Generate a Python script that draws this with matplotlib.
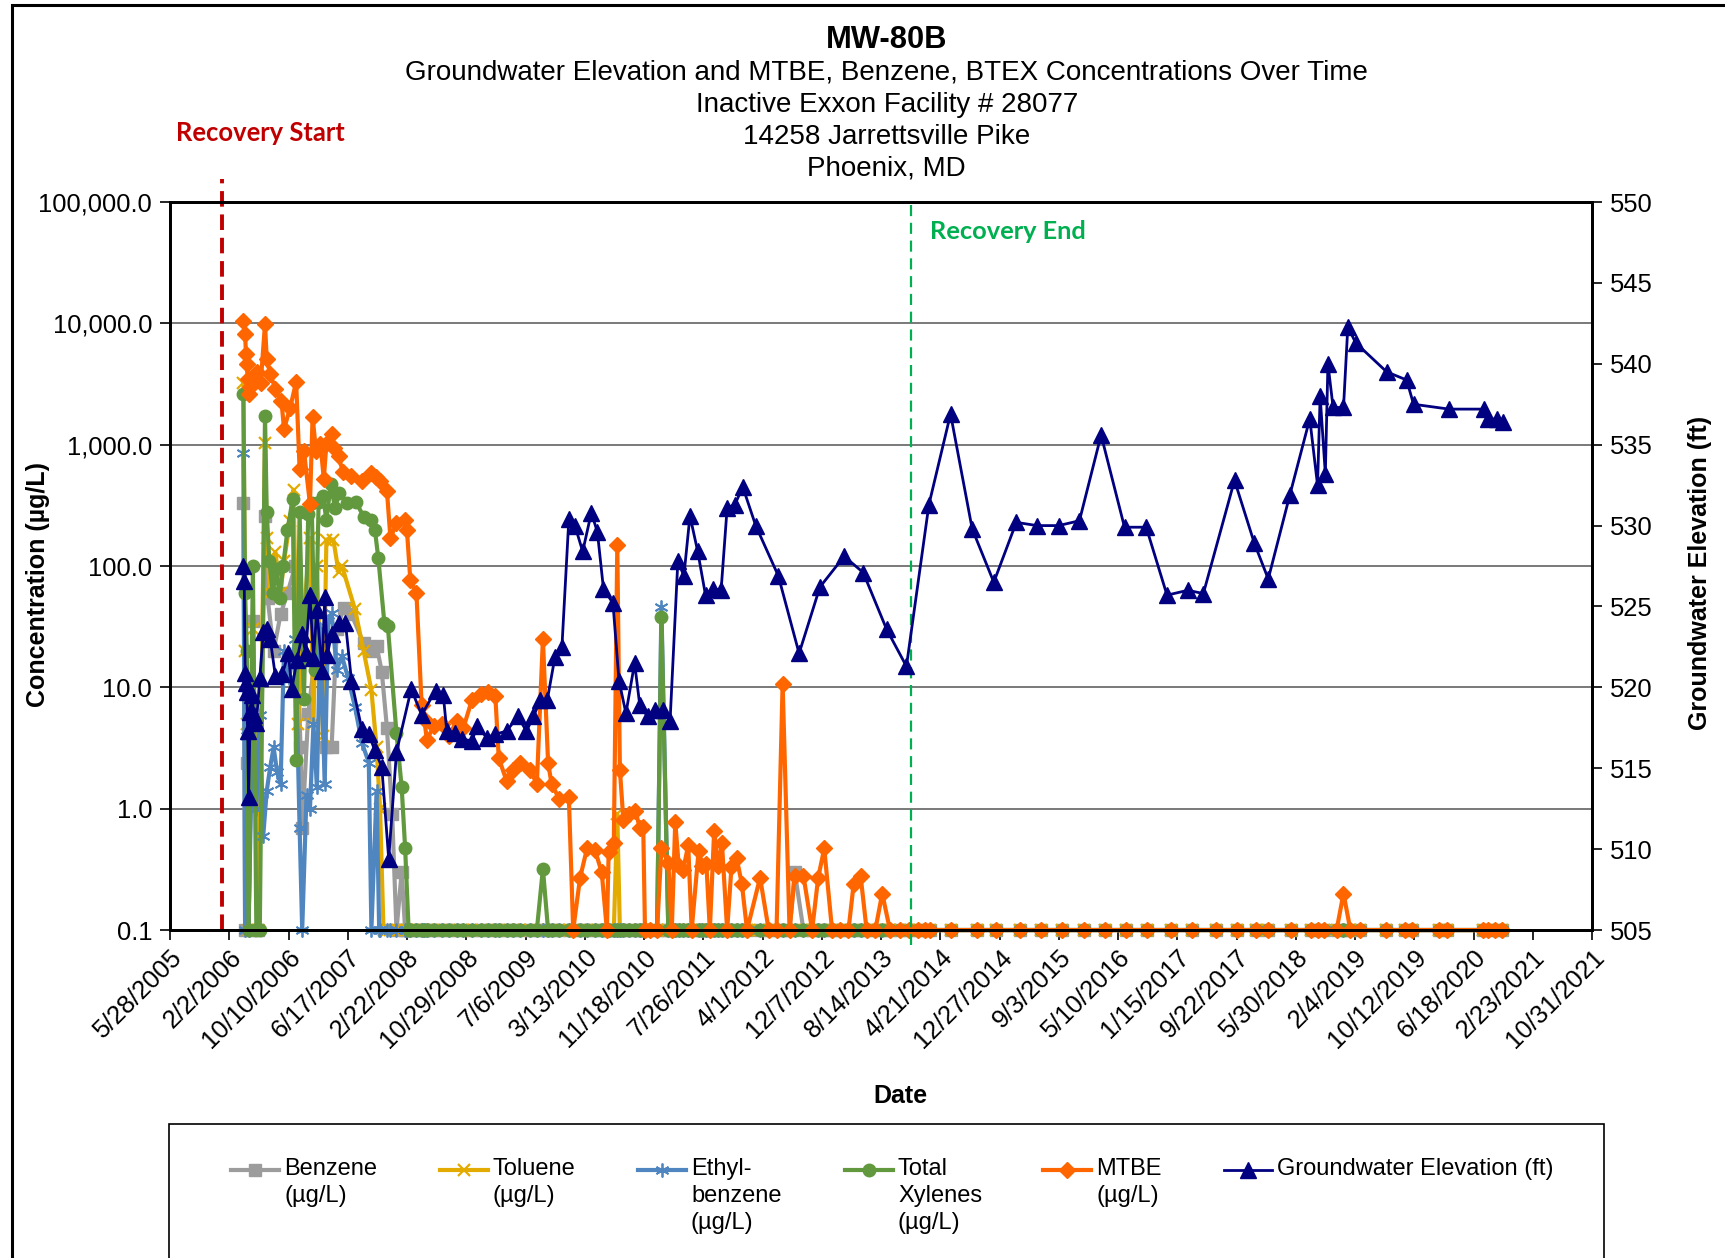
import numpy as np
import matplotlib
matplotlib.use("Agg")
import matplotlib.pyplot as plt
import matplotlib.dates as mdates
from matplotlib.lines import Line2D
from matplotlib.patches import Rectangle
from datetime import datetime, timedelta

plt.rcParams['font.family'] = ['Liberation Sans', 'DejaVu Sans']

# ---- data (sample dates as decimal years) ----
ND = 0.1  # non-detects are plotted at the reporting limit

mtbe_dates = [2006.25, 2006.27, 2006.28, 2006.29, 2006.30, 2006.31, 2006.33, 2006.36, 2006.41, 2006.45,
              2006.50, 2006.52, 2006.56, 2006.62, 2006.69, 2006.72, 2006.79, 2006.86, 2006.90, 2006.95,
              2007.02, 2007.05, 2007.09, 2007.14, 2007.18, 2007.21, 2007.27, 2007.30, 2007.35, 2007.40,
              2007.50, 2007.62, 2007.72, 2007.78, 2007.83, 2007.91, 2007.95, 2008.02, 2008.12, 2008.14,
              2008.18, 2008.25, 2008.31, 2008.34, 2008.37, 2008.45, 2008.54, 2008.62, 2008.72, 2008.79,
              2008.89, 2008.99, 2009.08, 2009.16, 2009.20, 2009.29, 2009.37, 2009.45, 2009.56, 2009.64,
              2009.71, 2009.77, 2009.81, 2009.90, 2010.01, 2010.06, 2010.14, 2010.22, 2010.31, 2010.39,
              2010.45, 2010.47, 2010.53, 2010.57, 2010.60, 2010.64, 2010.70, 2010.78, 2010.83, 2010.87,
              2010.89, 2010.95, 2011.03, 2011.08, 2011.16, 2011.20, 2011.24, 2011.28, 2011.33, 2011.39,
              2011.43, 2011.51, 2011.55, 2011.60, 2011.64, 2011.69, 2011.73, 2011.78, 2011.84, 2011.89,
              2011.95, 2012.01, 2012.07, 2012.22, 2012.32, 2012.41, 2012.48, 2012.56, 2012.62, 2012.72,
              2012.82, 2012.89, 2012.96, 2013.05, 2013.14, 2013.24, 2013.30, 2013.38, 2013.45, 2013.55,
              2013.63, 2013.72, 2013.83, 2013.94, 2014.04, 2014.13, 2014.18, 2014.43, 2014.73, 2014.95,
              2015.22, 2015.47, 2015.71, 2015.96, 2016.20, 2016.45, 2016.69, 2016.97, 2017.21, 2017.49,
              2017.73, 2017.95, 2018.09, 2018.35, 2018.58, 2018.66, 2018.74, 2018.88, 2018.96, 2019.04,
              2019.15, 2019.45, 2019.67, 2019.75, 2020.06, 2020.16, 2020.57, 2020.63, 2020.71, 2020.79]
mtbe_vals = [10500, 8100, 5600, 4600, 3500, 2600, 3000, 3500, 4000, 3200,
             9900, 5100, 3800, 2900, 2300, 1350, 2000, 3300, 630, 890,
             325, 1700, 890, 1020, 525, 1020, 1230, 935, 800, 600,
             550, 500, 580, 540, 500, 415, 170, 225, 240, 200,
             76, 60, 7.1, 5.5, 3.7, 4.8, 5.0, 4.0, 5.3, 4.6,
             7.9, 8.8, 9.1, 8.5, 2.6, 1.7, 2.1, 2.4, 2.1, 1.6,
             25, 2.4, 1.6, 1.2, 1.25, 0.1, 0.27, 0.47, 0.46, 0.30,
             0.1, 0.44, 0.52, 148, 2.1, 0.81, 0.9, 0.95, 0.7, 0.71,
             0.1, 0.1, 0.1, 0.47, 0.36, 0.1, 0.78, 0.34, 0.31, 0.50,
             0.1, 0.45, 0.34, 0.35, 0.1, 0.66, 0.34, 0.52, 0.1, 0.33,
             0.39, 0.24, 0.1, 0.27, 0.1, 0.1, 10.7, 0.1, 0.28, 0.28,
             0.1, 0.27, 0.47, 0.1, 0.1, 0.1, 0.24, 0.28, 0.1, 0.1,
             0.2, 0.1, 0.1, 0.1, 0.1, 0.1, 0.1, 0.1, 0.1, 0.1,
             0.1, 0.1, 0.1, 0.1, 0.1, 0.1, 0.1, 0.1, 0.1, 0.1,
             0.1, 0.1, 0.1, 0.1, 0.1, 0.1, 0.1, 0.1, 0.2, 0.1,
             0.1, 0.1, 0.1, 0.1, 0.1, 0.1, 0.1, 0.1, 0.1, 0.1]

benzene_dates = [2006.25, 2006.27, 2006.29, 2006.31, 2006.36, 2006.42, 2006.50, 2006.53, 2006.60, 2006.68,
                 2006.76, 2006.85, 2006.91, 2006.93, 2007.00, 2007.10, 2007.21, 2007.27, 2007.33, 2007.41,
                 2007.50, 2007.64, 2007.72, 2007.79, 2007.85, 2007.91, 2007.97, 2008.02, 2008.08, 2008.12]
benzene_vals = [330, 0.1, 2.4, 0.1, 35, 0.1, 260, 55, 20, 40,
                60, 100, 3.2, 0.7, 6, 25, 3.2, 3.2, 30, 45,
                40, 23, 20, 22, 13.5, 4.6, 0.9, 0.1, 0.3, 0.1]
benzene_hits = {2012.62: 0.3}

toluene_dates = [2006.25, 2006.27, 2006.29, 2006.31, 2006.36, 2006.42, 2006.50, 2006.52, 2006.56, 2006.62,
                 2006.68, 2006.72, 2006.79, 2006.83, 2006.88, 2006.95, 2007.02, 2007.06, 2007.10, 2007.17,
                 2007.21, 2007.29, 2007.35, 2007.39, 2007.54, 2007.64, 2007.73, 2007.79, 2007.83, 2007.87]
toluene_vals = [3200, 20, 5, 0.1, 30, 0.1, 1030, 170, 60, 130,
                60, 110, 235, 425, 5, 40, 170, 5, 100, 4,
                165, 165, 90, 100, 44, 20, 9.5, 3.2, 1.0, 0.1]
toluene_hits = {2010.57: 0.9}

ethylbenzene_dates = [2006.25, 2006.27, 2006.29, 2006.31, 2006.36, 2006.40, 2006.44, 2006.48, 2006.52, 2006.56,
                      2006.60, 2006.64, 2006.68, 2006.72, 2006.78, 2006.85, 2006.90, 2006.93, 2006.98, 2007.02,
                      2007.06, 2007.10, 2007.14, 2007.19, 2007.23, 2007.27, 2007.33, 2007.39, 2007.46, 2007.54,
                      2007.62, 2007.70, 2007.73, 2007.79, 2007.82]
ethylbenzene_vals = [850, 0.1, 4, 0.1, 8, 1.0, 5.9, 0.6, 1.4, 2.2,
                     3.2, 2.0, 1.6, 20, 12, 25, 0.7, 0.1, 1.3, 1.0,
                     5, 1.5, 30, 1.6, 35, 41, 14, 18, 12, 6.9,
                     3.5, 2.4, 0.1, 1.4, 0.1]
ethylbenzene_hits = {2011.08: 46}

xylenes_dates = [2006.25, 2006.27, 2006.29, 2006.31, 2006.36, 2006.40, 2006.44, 2006.50, 2006.52, 2006.55,
                 2006.59, 2006.63, 2006.67, 2006.71, 2006.76, 2006.82, 2006.86, 2006.90, 2006.95, 2007.00,
                 2007.04, 2007.08, 2007.12, 2007.17, 2007.21, 2007.26, 2007.31, 2007.36, 2007.45, 2007.55,
                 2007.64, 2007.72, 2007.77, 2007.81, 2007.88, 2007.92, 2008.02, 2008.08, 2008.12, 2008.16]
xylenes_vals = [2600, 60, 20, 0.1, 100, 0.1, 0.1, 1740, 280, 110,
                60, 95, 55, 100, 200, 355, 2.5, 280, 8, 270,
                330, 14, 340, 375, 240, 470, 300, 400, 330, 340,
                255, 240, 200, 116, 34, 32, 4.2, 1.5, 0.47, 0.1]
xylenes_hits = {2009.71: 0.32, 2011.08: 38}

gw_dates = [2006.25, 2006.26, 2006.27, 2006.28, 2006.29, 2006.30, 2006.31, 2006.33, 2006.35, 2006.37,
            2006.40, 2006.44, 2006.48, 2006.52, 2006.56, 2006.62, 2006.70, 2006.77, 2006.81, 2006.87,
            2006.93, 2006.97, 2007.02, 2007.06, 2007.10, 2007.16, 2007.19, 2007.22, 2007.27, 2007.35,
            2007.43, 2007.50, 2007.62, 2007.70, 2007.77, 2007.85, 2007.93, 2008.02, 2008.19, 2008.31,
            2008.47, 2008.56, 2008.60, 2008.70, 2008.77, 2008.89, 2008.95, 2009.06, 2009.16, 2009.29,
            2009.42, 2009.52, 2009.60, 2009.68, 2009.76, 2009.85, 2009.93, 2010.01, 2010.08, 2010.17,
            2010.27, 2010.34, 2010.41, 2010.52, 2010.59, 2010.67, 2010.77, 2010.83, 2010.92, 2011.01,
            2011.10, 2011.18, 2011.27, 2011.34, 2011.41, 2011.50, 2011.59, 2011.68, 2011.77, 2011.84,
            2011.93, 2012.02, 2012.17, 2012.43, 2012.67, 2012.91, 2013.19, 2013.41, 2013.68, 2013.91,
            2014.17, 2014.42, 2014.67, 2014.92, 2015.18, 2015.42, 2015.67, 2015.91, 2016.16, 2016.43,
            2016.68, 2016.92, 2017.16, 2017.34, 2017.70, 2017.93, 2018.09, 2018.34, 2018.57, 2018.66,
            2018.69, 2018.75, 2018.78, 2018.84, 2018.96, 2019.01, 2019.10, 2019.46, 2019.69, 2019.77,
            2020.18, 2020.58, 2020.63, 2020.73, 2020.80]
gw_elev = [527.5, 526.6, 520.9, 520.3, 519.7, 517.3, 513.2, 518.5, 519.5, 518.3,
           517.8, 520.6, 523.4, 523.6, 523.0, 520.7, 520.8, 522.1, 519.9, 521.7,
           523.3, 522.1, 525.7, 521.8, 524.8, 521.0, 525.6, 522.0, 523.3, 524.0,
           524.0, 520.4, 517.4, 517.1, 516.1, 515.1, 509.4, 516.0, 519.9, 518.3,
           519.8, 519.5, 517.3, 517.2, 516.8, 516.7, 517.6, 516.9, 517.1, 517.3,
           518.2, 517.3, 518.2, 519.2, 519.2, 521.9, 522.5, 530.4, 530.0, 528.4,
           530.8, 529.6, 526.1, 525.2, 520.4, 518.4, 521.5, 518.9, 518.2, 518.6,
           518.6, 517.9, 527.8, 526.9, 530.6, 528.4, 525.7, 526.1, 526.0, 531.1,
           531.3, 532.4, 530.0, 526.9, 522.1, 526.2, 528.1, 527.1, 523.6, 521.3,
           531.3, 536.9, 529.8, 526.5, 530.2, 530.0, 530.0, 530.3, 535.6, 529.9,
           529.9, 525.7, 526.0, 525.8, 532.8, 528.9, 526.7, 531.9, 536.6, 532.5,
           538.0, 533.2, 540.0, 537.3, 537.3, 542.3, 541.3, 539.5, 539.0, 537.5,
           537.2, 537.2, 536.6, 536.6, 536.4]

recovery_start = 2006.00
recovery_end = 2013.96


def to_date(y):
    year = int(y)
    start = datetime(year, 1, 1)
    length = (datetime(year + 1, 1, 1) - start).days
    return start + timedelta(days=(y - year) * length)


def with_late_results(dates, vals, hits):
    """Append the later sampling rounds: non-detect unless a hit was reported."""
    last = dates[-1]
    late = [d for d in mtbe_dates if d > last]
    return dates + late, vals + [hits.get(d, ND) for d in late]


# ---- figure ----
fig = plt.figure(figsize=(17.25, 12.58), dpi=100)
ax = fig.add_axes([0.0986, 0.2607, 0.8243, 0.5787])
ax2 = ax.twinx()

series = [
    ("Benzene\n(µg/L)", with_late_results(benzene_dates, benzene_vals, benzene_hits),
     dict(color='#9C9C9C', marker='s', ms=9)),
    ("Toluene\n(µg/L)", with_late_results(toluene_dates, toluene_vals, toluene_hits),
     dict(color='#E3AA00', marker='x', ms=9, mew=1.6)),
    ("Ethyl-\nbenzene\n(µg/L)", with_late_results(ethylbenzene_dates, ethylbenzene_vals, ethylbenzene_hits),
     dict(color='#4F86C0', marker=(6, 2, 0), ms=10, mew=1.3)),
    ("Total\nXylenes\n(µg/L)", with_late_results(xylenes_dates, xylenes_vals, xylenes_hits),
     dict(color='#62993E', marker='o', ms=9)),
    ("MTBE\n(µg/L)", (mtbe_dates, mtbe_vals),
     dict(color='#FF6600', marker='D', ms=8)),
]

for label, (d, v), style in series:
    ax.plot([to_date(x) for x in d], v, lw=3, clip_on=False, **style)

gw_style = dict(color='#000080', marker='^', ms=11)
ax2.plot([to_date(x) for x in gw_dates], gw_elev, lw=2, clip_on=False, **gw_style)

# recovery markers
ax.plot([to_date(recovery_start)] * 2, [0, 1.032], transform=ax.get_xaxis_transform(),
        color='#C00000', lw=2.8, ls=(0, (4, 2)), clip_on=False)
ax.plot([to_date(recovery_end)] * 2, [-0.02, 1.0], transform=ax.get_xaxis_transform(),
        color='#00B050', lw=1.6, ls=(0, (5, 3)), clip_on=False)

# left axis
ax.set_yscale('log')
ax.set_ylim(0.1, 1e5)
ax.set_yticks([0.1, 1, 10, 100, 1e3, 1e4, 1e5])
ax.set_yticklabels([f"{v:,.1f}" for v in [0.1, 1, 10, 100, 1e3, 1e4, 1e5]])
ax.yaxis.set_minor_locator(matplotlib.ticker.NullLocator())
ax.yaxis.grid(True, color='#555555', lw=1.1)
ax.set_axisbelow(True)

# right axis
ax2.set_ylim(505, 550)
ax2.set_yticks(np.arange(505, 551, 5))

# date axis with 250 day steps
x0 = datetime(2005, 5, 28)
ticks = [x0 + timedelta(days=250 * i) for i in range(25)]
ax.set_xlim(ticks[0], ticks[-1])
ax.set_xticks(ticks)
ax.set_xticklabels([f"{t.month}/{t.day}/{t.year}" for t in ticks],
                   rotation=45, ha='right', rotation_mode='anchor')

for a in (ax, ax2):
    a.tick_params(labelsize=18.4, direction='out', length=7, width=1.2, pad=6)
    for s in a.spines.values():
        s.set_linewidth(2)
ax.tick_params(axis='x', pad=4)

fig.text(0.022, 0.535, "Concentration (µg/L)", rotation=90, ha='center', va='center',
         fontsize=18, fontweight='bold')
fig.text(0.9855, 0.5445, "Groundwater Elevation (ft)", rotation=90, ha='center', va='center',
         fontsize=18, fontweight='bold')
fig.text(0.522, 0.1288, "Date", ha='center', va='center', fontsize=18, fontweight='bold')

# titles
fig.text(0.514, 0.968, "MW-80B", ha='center', va='center', fontsize=22.2, fontweight='bold')
subtitle = ["Groundwater Elevation and MTBE, Benzene, BTEX Concentrations Over Time",
            "Inactive Exxon Facility # 28077",
            "14258 Jarrettsville Pike",
            "Phoenix, MD"]
for i, line in enumerate(subtitle):
    fig.text(0.514, 0.9423 - i * 0.0255, line, ha='center', va='center', fontsize=20)

fig.text(0.102, 0.894, "Recovery Start", ha='left', va='center', fontsize=18.4,
         fontweight='bold', color='#C00000', family=['Lato', 'DejaVu Sans'])
fig.text(0.539, 0.8156, "Recovery End", ha='left', va='center', fontsize=18.3,
         fontweight='bold', color='#00B050', family=['Lato', 'DejaVu Sans'])

# outer frame and legend box
fig.add_artist(Rectangle((12 / 1725, -0.05), 1.2, 1.05 - 5 / 1258, transform=fig.transFigure,
                         fill=False, ec='black', lw=2.2))
fig.add_artist(Rectangle((169 / 1725, -0.05), (1604 - 169) / 1725, 0.05 + 1 - 1124 / 1258,
                         transform=fig.transFigure, fill=False, ec='black', lw=1.2))

legend_x = [231, 440, 638, 845, 1043, 1224]
entries = [(lab, st) for lab, _, st in series] + [("Groundwater Elevation (ft)", gw_style)]
y_line = 1 - 1170 / 1258
for (lab, st), px in zip(entries, legend_x):
    xa, xb = px / 1725, (px + 48) / 1725
    lw = 2 if lab.startswith("Groundwater") else 3
    fig.add_artist(Line2D([xa, (xa + xb) / 2, xb], [y_line] * 3, transform=fig.transFigure,
                          lw=lw, markevery=[1], **st))
    fig.text(xb + 5 / 1725, 1 - 1158 / 1258, lab, ha='left', va='top', fontsize=17,
             linespacing=1.3)

fig.savefig("out.png", dpi=100)
